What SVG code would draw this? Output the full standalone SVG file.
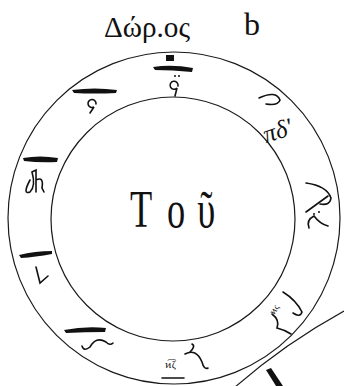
<svg xmlns="http://www.w3.org/2000/svg" width="344" height="386" viewBox="0 0 344 386">
<style>
.ln{fill:none;stroke:#1a1a1a;stroke-width:1.2}
.nk{fill:#111;stroke:none}
.pen{fill:none;stroke:#111;stroke-width:1.6;stroke-linecap:round}
.t{font-family:"Liberation Serif","DejaVu Serif",serif;fill:#111}
</style>
<rect width="344" height="386" fill="#fff"/>
<g id="title">
<text class="t" x="104" y="37" font-size="30" textLength="86" lengthAdjust="spacingAndGlyphs">Δώρ.ος</text>
<text class="t" x="244" y="35" font-size="32">b</text>
</g>
<g id="ring">
<circle class="ln" cx="174" cy="218" r="166"/>
<circle class="ln" cx="173" cy="219" r="122"/>
</g>
<g id="center">
<text class="t" transform="translate(130,227) scale(0.7,1)" font-size="52"><tspan x="0">Τ</tspan><tspan x="53">ο</tspan><tspan x="96">ῦ</tspan></text>
</g>
<g id="connectors">
<path class="ln" d="M234,388 Q284,344 344,311"/>
<path class="nk" d="M266,370 L271,368 L283,386 L276,386 z"/>
</g>
<g id="n-top">
<rect class="nk" x="166" y="55" width="8" height="6"/>
<path class="nk" d="M153,67 Q172,64 193,68 L192,72 Q172,70 155,70 z"/>
<circle class="nk" cx="175" cy="76" r="1"/>
<circle class="nk" cx="179" cy="76" r="1"/>
<path class="pen" d="M178,86 A4,4 0 1 0 177,88 L175,96"/>
</g>
<g id="n-topleft">
<path class="nk" d="M72,90 Q95,87 117,90 L116,93 Q95,94 74,93 z"/>
<path class="pen" d="M96,104 A4,4 0 1 0 94,107 L90,113"/>
</g>
<g id="n-upright">
<path class="pen" d="M259,98 Q276,90 280,100 Q278,106 266,104" stroke-width="2.6"/>
<text class="t" x="262" y="138" font-size="25" font-style="italic" transform="rotate(-18 280 128)">πδ'</text>
</g>
<g id="n-right">
<path class="pen" d="M306,183 Q327,186 331,198 Q330,206 320,204" stroke-width="2.8"/>
<path class="pen" d="M306,212 L328,196" stroke-width="1"/>
<path class="pen" d="M309,228 Q306,220 314,216 Q320,224 328,226" stroke-width="1.2"/>
<circle class="nk" cx="314" cy="214" r="1"/><circle class="nk" cx="319" cy="212" r="1"/>
</g>
<g id="n-left">
<path class="nk" d="M23,158 Q40,155 58,158 L57,162 Q40,163 24,161 z"/>
<path class="pen" d="M30,180 Q22,195 30,192 Q36,186 32,172 L36,170 L36,192 M36,180 Q44,176 42,188 L44,192"/>
</g>
<g id="n-leftlow">
<path class="nk" d="M19,255 Q35,251 52,251 L52,254 Q35,257 21,258 z"/>
<path class="pen" d="M36,267 L40,283 L48,276"/>
</g>
<g id="n-bottomleft">
<path class="nk" d="M64,330 Q85,326 106,328 L105,332 Q85,332 66,333 z"/>
<path class="pen" d="M82,346 Q84,352 90,347 Q96,336 106,342 Q110,346 113,343"/>
</g>
<g id="n-bottom">
<path class="pen" d="M185,354 Q196,348 202,362 Q204,370 208,368" stroke-width="1.4"/>
<path class="pen" d="M190,352 Q196,346 192,344" stroke-width="1"/>
<text class="t" x="165" y="368" font-size="10">ͷ͡ζ</text>
<path class="pen" d="M162,378 L184,378" stroke-width="1.4"/>
</g>
<g id="n-lowright">
<path class="pen" d="M283,292 Q296,300 302,312 Q300,318 293,313" stroke-width="3"/>
<path class="pen" d="M272,314 Q280,320 277,328 Q285,330 291,334" stroke-width="1"/>
<text class="t" x="268" y="312" font-size="9" transform="rotate(-60 274 308)">ͷϛ</text>
</g>
</svg>
